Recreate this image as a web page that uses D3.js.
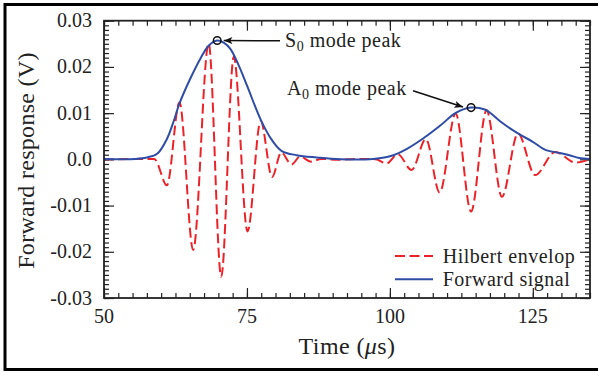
<!DOCTYPE html>
<html>
<head>
<meta charset="utf-8">
<script src="https://cdn.jsdelivr.net/npm/d3@7"></script>
<style>
  body { margin: 0; background: #fff; }
  svg { display: block; }
</style>
</head>
<body>
<svg id="chart" width="598" height="373"></svg>
<script>
// Forward signal (carrier) sampled at its turning points, time in µs, response in V
const signalTime  = [50, 58.8, 61.0, 63.2, 65.6, 68.3, 70.5, 72.7, 75.1, 77.4, 79.4, 81.0, 82.8, 84.3, 86.2, 88.0, 91.0, 94.0, 97.5,
                     99.4, 101.4, 103.8, 106.3, 108.7, 111.5, 114.2, 116.9, 119.6, 122.4, 125.4, 128.9, 132.5, 135];
const signalValue = [0, 0.0001, -0.0056, 0.0123, -0.0196, 0.0251, -0.0254, 0.0222, -0.0156, 0.0083, -0.0038, 0.0015, -0.0011, 0.0006, -0.0005, 0.0001, -0.0001, 0.0001, 0.0000,
                     -0.0009, 0.0011, -0.0023, 0.0044, -0.0072, 0.0099, -0.0113, 0.0106, -0.0081, 0.0056, -0.0034, 0.0016, -0.0007, 0.0000];

// Hilbert envelope of the same record
const envelopeTime  = [50, 55.5, 57.5, 59.3, 61.0, 62.2, 63.2, 65.1, 66.9, 68.3, 69.8, 71.0, 72.1, 73.5, 75.0, 77.4, 79.35, 81.1, 83.7, 87.2, 91.3, 97.1,
                       100.6, 102.9, 105.8, 108.7, 111.6, 114.2, 116.6, 117.4, 119.75, 122.4, 125.0, 127.3, 129.65, 131.4, 133.1, 135];
const envelopeValue = [0.0001, 0.0001, 0.0004, 0.0012, 0.0044, 0.0083, 0.0121, 0.0175, 0.0219, 0.0246, 0.0257, 0.0252, 0.0239, 0.0205, 0.0160, 0.0086, 0.0042, 0.0018, 0.0009, 0.0004, 0.0000, 0.0001,
                       0.0009, 0.0022, 0.0045, 0.0072, 0.0101, 0.0112, 0.0108, 0.0102, 0.0078, 0.0056, 0.0038, 0.0020, 0.0014, 0.0009, 0.0003, 0.0001];

// Mode peaks marked on the envelope
const peakTime  = [69.8, 114.2];
const peakValue = [0.0257, 0.0112];
const peakMode  = ["S", "A"];

const xTicks = [50, 75, 100, 125];
const yTicks = [-0.03, -0.02, -0.01, 0, 0.01, 0.02, 0.03];
const yTickLabels = ["-0.03", "-0.02", "-0.01", "0.0", "0.01", "0.02", "0.03"];
const seriesNames = ["Hilbert envelop", "Forward signal"];

const svg = d3.select("#chart");
const plot = { left: 104, right: 590, top: 20.7, bottom: 298 };
const ink = "#222";
const serif = '"Liberation Serif", "Times New Roman", serif';

const x = d3.scaleLinear().domain([50, 135]).range([plot.left, plot.right]);
const y = d3.scaleLinear().domain([-0.03, 0.03]).range([plot.bottom, plot.top]);

const red = "#ec2229", blue = "#2f4da6";

// every text element gets the serif face and ink colour
function label(sel, size) {
  return sel.style("font-family", serif).style("font-size", size + "px").attr("fill", ink);
}

// outer figure border
svg.append("rect").attr("x", 5).attr("y", 4.5).attr("width", 620).attr("height", 365)
  .attr("fill", "none").attr("stroke", "#000").attr("stroke-width", 3);

// minor and major ticks on all four sides, pointing inward
const xMinor = d3.range(50, 135.01, 2.5);
const yMinor = d3.range(-30, 30.01, 1).map(d => d / 1000);

function ticks(gen, pos, len, values) {
  const g = svg.append("g").attr("transform", pos)
    .call(gen.tickValues(values).tickSize(len).tickFormat(""));
  g.select(".domain").remove();
  g.selectAll("text").remove();
  g.selectAll("line").attr("stroke", "#222").attr("stroke-width", 1.2);
  return g;
}
ticks(d3.axisBottom(x), `translate(0,${plot.bottom})`, -5, xMinor);
ticks(d3.axisBottom(x), `translate(0,${plot.bottom})`, -10, xTicks);
ticks(d3.axisTop(x), `translate(0,${plot.top})`, -5, xMinor);
ticks(d3.axisTop(x), `translate(0,${plot.top})`, -10, xTicks);
ticks(d3.axisLeft(y), `translate(${plot.left},0)`, -5, yMinor);
ticks(d3.axisLeft(y), `translate(${plot.left},0)`, -10, yTicks);
ticks(d3.axisRight(y), `translate(${plot.right},0)`, -5, yMinor);
ticks(d3.axisRight(y), `translate(${plot.right},0)`, -10, yTicks);

// tick labels
label(svg.append("g").selectAll("text").data(xTicks).join("text")
  .attr("x", d => x(d)).attr("y", 322.5).attr("text-anchor", "middle"), 20).text(d => d);
label(svg.append("g").selectAll("text").data(yTicks).join("text")
  .attr("x", plot.left - 12).attr("y", d => y(d) + 6.5).attr("text-anchor", "end"), 20)
  .text((d, i) => yTickLabels[i]);

// axis titles
const xt = label(svg.append("text").attr("x", 347).attr("y", 354).attr("text-anchor", "middle"), 24)
  .style("letter-spacing", "0.4px");
xt.append("tspan").text("Time (");
xt.append("tspan").style("font-style", "italic").text("μ");
xt.append("tspan").text("s)");
label(svg.append("text").attr("transform", "translate(34,160.5) rotate(-90)")
  .attr("text-anchor", "middle"), 24).style("letter-spacing", "0.3px").text("Forward response (V)");

// curves
svg.append("clipPath").attr("id", "plotclip").append("rect")
  .attr("x", plot.left).attr("y", plot.top).attr("width", plot.right - plot.left).attr("height", plot.bottom - plot.top);

const carrierLine = d3.line().x(d => x(d[0])).y(d => y(d[1])).curve(d3.curveMonotoneX);
const envelopeLine = d3.line().x(d => x(d[0])).y(d => y(d[1])).curve(d3.curveCatmullRom.alpha(0.5));
const signal = signalTime.map((t, i) => [t, signalValue[i]]);
const envelope = envelopeTime.map((t, i) => [t, envelopeValue[i]]);

svg.append("path").datum(signal).attr("d", carrierLine).attr("clip-path", "url(#plotclip)")
  .attr("fill", "none").attr("stroke", red).attr("stroke-width", 2).attr("stroke-dasharray", "10,4.5");
svg.append("path").datum(envelope).attr("d", envelopeLine).attr("clip-path", "url(#plotclip)")
  .attr("fill", "none").attr("stroke", blue).attr("stroke-width", 2);

// plot frame
svg.append("rect").attr("x", plot.left).attr("y", plot.top)
  .attr("width", plot.right - plot.left).attr("height", plot.bottom - plot.top)
  .attr("fill", "none").attr("stroke", "#222").attr("stroke-width", 1.8);

// peak markers with arrows and labels
svg.append("defs").append("marker").attr("id", "arrow")
  .attr("viewBox", "0 0 10 8").attr("refX", 10).attr("refY", 4)
  .attr("markerWidth", 9).attr("markerHeight", 7).attr("markerUnits", "userSpaceOnUse")
  .attr("orient", "auto").append("path").attr("d", "M0,0 L10,4 L0,8 L2.5,4 Z").attr("fill", "#111");

const peaks = peakTime.map((t, i) => ({ t, v: peakValue[i], mode: peakMode[i] }));
svg.append("g").selectAll("circle").data(peaks).join("circle")
  .attr("cx", d => x(d.t)).attr("cy", d => y(d.v)).attr("r", 3.8)
  .attr("fill", "none").attr("stroke", "#111").attr("stroke-width", 1.5);

const annot = [
  { from: [280, 40.7], tipOff: [6.5, 0], text: [285, 46.7] },
  { from: [413, 90.7], tipOff: [-8, -0.5], text: [287, 95] }
];
peaks.forEach((p, i) => {
  const a = annot[i];
  svg.append("line").attr("x1", a.from[0]).attr("y1", a.from[1])
    .attr("x2", x(p.t) + a.tipOff[0]).attr("y2", y(p.v) + a.tipOff[1])
    .attr("stroke", "#111").attr("stroke-width", 1.5).attr("marker-end", "url(#arrow)");
  const t = label(svg.append("text").attr("x", a.text[0]).attr("y", a.text[1]), 20)
    .style("letter-spacing", "0.5px");
  t.append("tspan").text(p.mode);
  t.append("tspan").style("font-size", "14px").attr("dy", 4).text("0");
  t.append("tspan").attr("dy", -4).text(" mode peak");
});

// legend
const legend = svg.append("g");
const legendY = [256, 279.3];
seriesNames.forEach((name, i) => {
  legend.append("line").attr("x1", 395).attr("x2", 433).attr("y1", legendY[i]).attr("y2", legendY[i])
    .attr("stroke", i === 0 ? red : blue).attr("stroke-width", 2)
    .attr("stroke-dasharray", i === 0 ? "10,4.5" : null);
  label(legend.append("text").attr("x", 442.7).attr("y", legendY[i] + 7), 20)
    .style("letter-spacing", "0.5px").text(name);
});
</script>
</body>
</html>
